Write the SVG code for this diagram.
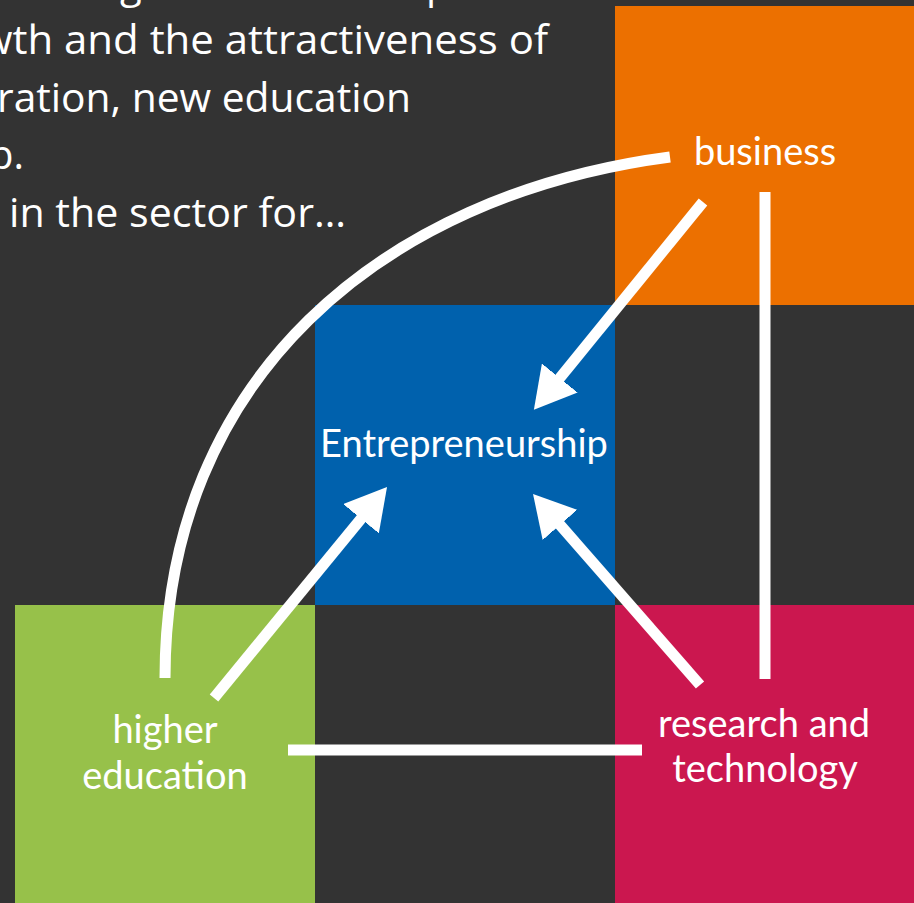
<svg xmlns="http://www.w3.org/2000/svg" width="914" height="903" viewBox="0 0 914 903">
  <defs>
    <style>
      .intro { font-family: "Open Sans", "Liberation Sans", sans-serif; font-size: 40px; fill: #ffffff; }
      .label { font-family: Lato, "Open Sans", sans-serif; font-size: 38px; fill: #ffffff; text-anchor: middle; }
      .conn { fill: none; stroke: #ffffff; stroke-width: 11; stroke-linecap: butt; }
    </style>
    <marker id="head" viewBox="0 0 41 46" refX="2" refY="23" markerWidth="41" markerHeight="46" markerUnits="userSpaceOnUse" orient="auto">
      <path d="M0,0 L41,23 L0,46 Z" fill="#ffffff"/>
    </marker>
  </defs>
  <rect x="0" y="0" width="914" height="903" fill="#333333"/>

  <g id="intro-text">
    <text class="intro" x="120" y="-2">g</text>
    <text class="intro" x="426" y="-2">p</text>
    <text class="intro" x="-20" y="54" textLength="568" lengthAdjust="spacingAndGlyphs">wth and the attractiveness of</text>
    <text class="intro" x="-3" y="112" textLength="414" lengthAdjust="spacingAndGlyphs">ration, new education</text>
    <text class="intro" x="24" y="169" text-anchor="end">p.</text>
    <text class="intro" x="9" y="227" textLength="337" lengthAdjust="spacingAndGlyphs">in the sector for…</text>
  </g>

  <g id="business">
    <rect x="615" y="6" width="299" height="299" fill="#ec7000"/>
    <text class="label" x="765" y="165">business</text>
  </g>
  <g id="entrepreneurship">
    <rect x="315" y="305" width="300" height="300" fill="#0061ad"/>
    <text class="label" x="464" y="457">Entrepreneurship</text>
  </g>
  <g id="higher-education">
    <rect x="15" y="605" width="300" height="298" fill="#97c14a"/>
    <text class="label" x="165" y="743">higher</text>
    <text class="label" x="165" y="789">education</text>
  </g>
  <g id="research-technology">
    <rect x="615" y="605" width="299" height="298" fill="#cb174f"/>
    <text class="label" x="764" y="737">research and</text>
    <text class="label" x="765" y="782">technology</text>
  </g>

  <g id="connectors">
    <path class="conn" d="M670,157 C380,195 165,380 165,678"/>
    <line class="conn" x1="765" y1="192" x2="765" y2="679"/>
    <line class="conn" x1="288" y1="750" x2="642" y2="750"/>
    <line class="conn" x1="703" y1="202" x2="558.5" y2="379.6" marker-end="url(#head)"/>
    <line class="conn" x1="214" y1="698" x2="362.3" y2="517.2" marker-end="url(#head)"/>
    <line class="conn" x1="700" y1="685" x2="558.7" y2="523.4" marker-end="url(#head)"/>
  </g>
</svg>
